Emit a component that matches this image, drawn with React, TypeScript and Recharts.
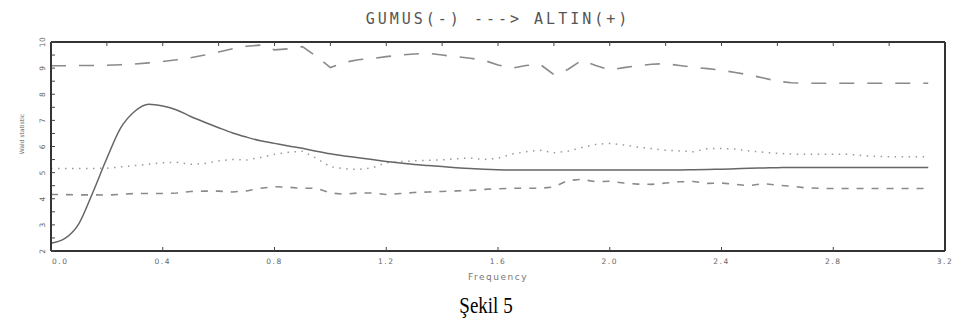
import { LineChart, Line, XAxis, YAxis } from "recharts";

// frequency grid (0 .. pi)
const frequency = [
  0, 0.05, 0.1, 0.15, 0.2, 0.25, 0.3, 0.35, 0.4, 0.45,
  0.5, 0.55, 0.6, 0.65, 0.7, 0.75, 0.8, 0.85, 0.9, 0.95,
  1.0, 1.05, 1.1, 1.15, 1.2, 1.25, 1.3, 1.35, 1.4, 1.45,
  1.5, 1.55, 1.6, 1.65, 1.7, 1.75, 1.8, 1.85, 1.9, 1.95,
  2.0, 2.05, 2.1, 2.15, 2.2, 2.25, 2.3, 2.35, 2.4, 2.45,
  2.5, 2.55, 2.6, 2.65, 2.7, 2.75, 2.8, 2.85, 2.9, 2.95,
  3.0, 3.05, 3.1, 3.14,
];

const waldSolid = [
  2.3, 2.48, 3.05, 4.25, 5.55, 6.72, 7.35, 7.62, 7.55, 7.4,
  7.15, 6.93, 6.72, 6.52, 6.36, 6.22, 6.12, 6.02, 5.93, 5.82,
  5.72, 5.64, 5.57, 5.5, 5.43, 5.37, 5.31, 5.27, 5.23, 5.19,
  5.16, 5.13, 5.11, 5.1, 5.1, 5.1, 5.1, 5.1, 5.1, 5.1,
  5.1, 5.1, 5.1, 5.1, 5.1, 5.1, 5.11, 5.12, 5.13, 5.15,
  5.17, 5.18, 5.19, 5.2, 5.2, 5.2, 5.2, 5.2, 5.2, 5.2,
  5.2, 5.2, 5.2, 5.2,
];

const upperBound = [
  9.09, 9.09, 9.1, 9.1, 9.11, 9.13, 9.16, 9.2, 9.25, 9.32,
  9.4, 9.5, 9.62, 9.74, 9.84, 9.88, 9.7, 9.74, 9.82, 9.45,
  9.02, 9.22, 9.32, 9.37, 9.44, 9.5, 9.54, 9.57, 9.5, 9.44,
  9.38, 9.3, 9.12, 9.0, 9.1, 9.15, 8.75, 8.95, 9.3, 9.1,
  8.93, 9.02, 9.09, 9.15, 9.17, 9.1, 9.03, 8.98, 8.92, 8.83,
  8.74, 8.62, 8.5, 8.44, 8.42, 8.42, 8.42, 8.42, 8.42, 8.42,
  8.42, 8.42, 8.42, 8.42,
];

const middleBound = [
  5.16, 5.16, 5.16, 5.16, 5.17, 5.22, 5.27, 5.32, 5.38, 5.4,
  5.32, 5.35, 5.45, 5.5, 5.48, 5.58, 5.7, 5.78, 5.82, 5.55,
  5.22, 5.15, 5.12, 5.18, 5.38, 5.42, 5.45, 5.47, 5.49, 5.53,
  5.56, 5.5, 5.55, 5.71, 5.8, 5.86, 5.76, 5.82, 5.96, 6.08,
  6.12, 6.06, 5.98, 5.92, 5.86, 5.83, 5.8, 5.92, 5.92, 5.9,
  5.83, 5.78, 5.74, 5.71, 5.7, 5.7, 5.7, 5.7, 5.66, 5.62,
  5.61, 5.61, 5.61, 5.61,
];

const lowerBound = [
  4.16, 4.16, 4.15, 4.15, 4.14, 4.17, 4.2, 4.2, 4.2, 4.22,
  4.28, 4.29, 4.29, 4.26, 4.3, 4.4, 4.46, 4.44, 4.4, 4.4,
  4.22, 4.17, 4.22, 4.22, 4.16, 4.2, 4.24, 4.26, 4.28, 4.3,
  4.32, 4.36, 4.38, 4.4, 4.4, 4.4, 4.45, 4.7, 4.74, 4.65,
  4.67, 4.6, 4.56, 4.55, 4.6, 4.65, 4.66, 4.59, 4.6, 4.55,
  4.5, 4.58, 4.52, 4.48, 4.42, 4.4, 4.39, 4.39, 4.39, 4.39,
  4.39, 4.39, 4.39, 4.39,
];

const xTicks = [0, 0.4, 0.8, 1.2, 1.6, 2.0, 2.4, 2.8, 3.2];
const xTicksTop = [0, 0.2, 0.4, 0.6, 0.8, 1.0, 1.2, 1.4, 1.6, 1.8, 2.0, 2.2, 2.4, 2.6, 2.8, 3.0, 3.2];
const yTicks = [2, 2.5, 3, 3.5, 4, 4.5, 5, 5.5, 6, 6.5, 7, 7.5, 8, 8.5, 9, 9.5, 10];

const data = frequency.map((f, i) => ({
  f,
  wald: waldSolid[i],
  upper: upperBound[i],
  middle: middleBound[i],
  lower: lowerBound[i],
}));

const frame = { stroke: "#333", strokeWidth: 2 };
const tickStroke = { stroke: "#444", strokeWidth: 1 };
const tickFont = { fontFamily: "DejaVu Sans", fontSize: 7.5, fill: "#666", letterSpacing: 1.6 };

const XTick = (props: any) => {
  const { x, y, payload, index } = props;
  const first = index === 0;
  return (
    <text x={first ? x + 1 : x} y={y} dy="0.35em" textAnchor={first ? "start" : "middle"} {...tickFont}>
      {Number(payload.value).toFixed(1)}
    </text>
  );
};

const YTick = (props: any) => {
  const { x, y, payload } = props;
  if (!Number.isInteger(payload.value)) return <g />;
  return (
    <text x={x} y={y} dy="0.35em" textAnchor="middle" transform={`rotate(-90 ${x} ${y})`} {...tickFont} letterSpacing={0.5}>
      {payload.value}
    </text>
  );
};

const NoTick = () => <g />;

export default function App() {
  return (
    <div style={{ position: "absolute", left: 0, top: 0, width: 962, height: 325, background: "#fff" }}>
      <LineChart width={962} height={325} data={data} margin={{ top: 41, right: 16, bottom: 44, left: 21 }}>
        <XAxis
          xAxisId="b"
          type="number"
          dataKey="f"
          domain={[0, 3.2]}
          ticks={xTicks}
          height={30}
          tickSize={-4}
          tickMargin={14}
          tick={<XTick />}
          axisLine={frame}
          tickLine={tickStroke}
          interval={0}
        />
        <XAxis
          xAxisId="t"
          orientation="top"
          type="number"
          dataKey="f"
          domain={[0, 3.2]}
          ticks={xTicksTop}
          height={1}
          tickSize={-4}
          tick={NoTick}
          axisLine={frame}
          tickLine={tickStroke}
          interval={0}
        />
        <YAxis
          yAxisId="l"
          type="number"
          domain={[2, 10]}
          ticks={yTicks}
          width={30}
          tickSize={-4}
          tickMargin={13}
          tick={<YTick />}
          axisLine={frame}
          tickLine={tickStroke}
          interval={0}
        />
        <YAxis
          yAxisId="r"
          orientation="right"
          type="number"
          domain={[2, 10]}
          ticks={yTicks}
          width={1}
          tickSize={-4}
          tick={NoTick}
          axisLine={frame}
          tickLine={tickStroke}
          interval={0}
        />
        <Line xAxisId="b" yAxisId="l" dataKey="upper" type="linear" stroke="#8a8a8a" strokeWidth={1.6} strokeDasharray="15 13" dot={false} isAnimationActive={false} />
        <Line xAxisId="b" yAxisId="l" dataKey="middle" type="linear" stroke="#9a9a9a" strokeWidth={1.5} strokeDasharray="1.5 5.5" dot={false} isAnimationActive={false} />
        <Line xAxisId="b" yAxisId="l" dataKey="lower" type="linear" stroke="#8a8a8a" strokeWidth={1.6} strokeDasharray="7 8" dot={false} isAnimationActive={false} />
        <Line xAxisId="b" yAxisId="l" dataKey="wald" type="monotone" stroke="#666" strokeWidth={1.5} dot={false} isAnimationActive={false} />
      </LineChart>
      <svg width={962} height={325} style={{ position: "absolute", left: 0, top: 0, pointerEvents: "none" }}>
        <text x={498} y={24} textAnchor="middle" fontFamily="DejaVu Sans Mono" fontSize={15} fill="#555" letterSpacing={3}>
          GUMUS(-) ---&gt; ALTIN(+)
        </text>
        <text x={498} y={280} textAnchor="middle" fontFamily="DejaVu Sans" fontSize={9} fill="#777" letterSpacing={1.5}>
          Frequency
        </text>
        <text x={22} y={134} dy="0.35em" textAnchor="middle" transform="rotate(-90 22 134)" fontFamily="DejaVu Sans" fontSize={6} fill="#666">
          Wald statistic
        </text>
        <text x={0} y={0} textAnchor="middle" transform="translate(486 313) scale(1 1.2)" fontFamily="Liberation Serif" fontSize={19} fill="#000">
          Şekil 5
        </text>
      </svg>
    </div>
  );
}
